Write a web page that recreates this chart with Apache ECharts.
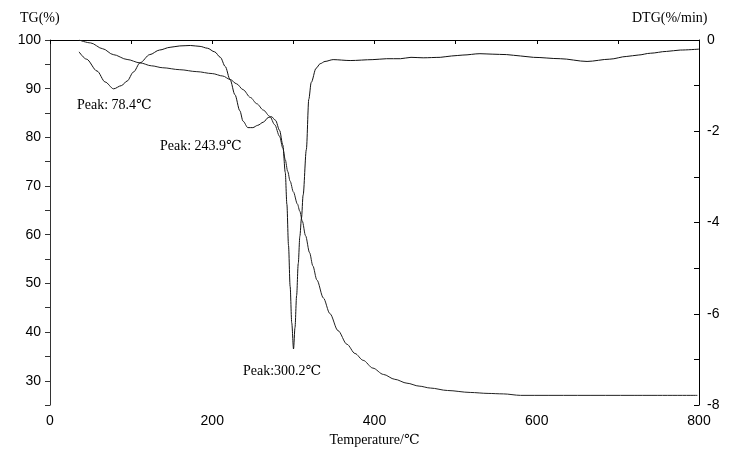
<!DOCTYPE html>
<html>
<head>
<meta charset="utf-8">
<script src="https://cdn.jsdelivr.net/npm/echarts@6/dist/echarts.min.js"></script>
<style>
html, body { margin: 0; padding: 0; background: #fff; }
#chart { width: 731px; height: 452px; }
</style>
</head>
<body>
<div id="chart"></div>
<script>
// TG curve (left axis, %)
var tgTemp = [35.8, 50, 65, 78, 95, 111, 125, 139, 160, 181, 200, 213, 222, 230, 238, 247, 255, 263, 271, 277, 283, 287, 290, 293, 296, 300, 305, 308, 311, 315, 320, 324, 329, 337, 345, 355, 366, 376, 386, 398, 411, 425, 440, 455, 469, 490, 518, 540, 559, 580, 650, 720, 798];
var tgVal = [100, 99.4, 98.2, 97.0, 96.0, 95.3, 94.7, 94.3, 93.9, 93.5, 93.1, 92.6, 91.9, 91.0, 89.8, 88.2, 86.9, 85.6, 84.3, 82.6, 80.2, 77.8, 75.4, 73.0, 71.0, 68.8, 66.3, 64.8, 62.8, 59.8, 56.3, 53.6, 50.7, 47.0, 43.8, 40.3, 37.5, 35.6, 34.2, 32.6, 31.3, 30.3, 29.5, 28.9, 28.5, 28.0, 27.6, 27.4, 27.3, 27.0, 27.0, 27.0, 27.0];

// DTG curve (right axis, %/min)
var dtgTemp = [35.8, 45, 58, 68, 78.4, 88, 95, 103, 111, 123, 135, 148, 160, 173, 185, 194, 203, 210, 216, 222, 228, 234, 238, 243.9, 250, 256, 263, 269, 273, 278, 283, 287, 290, 292, 294, 296, 298, 300.2, 302, 304, 306, 308, 310, 312, 316, 319, 322, 328, 333, 339, 349, 370, 398, 415, 432, 445, 460, 481, 495, 509, 530, 545, 563, 580, 596, 629, 662, 690, 711, 725, 740, 760, 777, 800];
var dtgVal = [-0.26, -0.42, -0.68, -0.92, -1.07, -1.00, -0.90, -0.70, -0.50, -0.32, -0.22, -0.16, -0.13, -0.12, -0.14, -0.18, -0.26, -0.38, -0.58, -0.87, -1.20, -1.55, -1.78, -1.92, -1.92, -1.87, -1.80, -1.70, -1.68, -1.76, -1.98, -2.3, -2.9, -3.6, -4.5, -5.4, -6.2, -6.77, -6.3, -5.6, -4.9, -4.3, -3.9, -3.4, -2.4, -1.3, -0.93, -0.62, -0.52, -0.47, -0.43, -0.45, -0.43, -0.41, -0.41, -0.38, -0.39, -0.38, -0.35, -0.33, -0.30, -0.31, -0.32, -0.35, -0.38, -0.41, -0.47, -0.42, -0.36, -0.33, -0.29, -0.25, -0.22, -0.20];

var peaks = ['Peak: 78.4℃', 'Peak: 243.9℃', 'Peak:300.2℃'];

function pairs(xs, ys) {
    var out = [];
    for (var i = 0; i < xs.length; i++) out.push([xs[i], ys[i]]);
    return out;
}

var serif = '"Liberation Serif", "DejaVu Serif", serif';
var sans = '"Liberation Sans", Arial, sans-serif';

var mychart = echarts.init(document.getElementById('chart'));
mychart.setOption({
    animation: false,
    grid: {
        left: 50,
        right: 32,
        top: 40,
        bottom: 43
    },
    xAxis: {
        type: 'value',
        min: 0,
        max: 800,
        interval: 100,
        name: 'Temperature/℃',
        nameLocation: 'middle',
        nameGap: 27,
        nameTextStyle: { fontFamily: serif, fontSize: 14, color: '#000' },
        axisLine: { lineStyle: { color: '#000', width: 1 } },
        axisTick: { length: 4, lineStyle: { color: '#000' } },
        axisLabel: {
            margin: 9,
            fontFamily: sans,
            fontSize: 14,
            color: '#000',
            formatter: function (v) { return v % 200 === 0 ? String(v) : ''; }
        },
        splitLine: { show: false }
    },
    yAxis: [
        {
            type: 'value',
            min: 25,
            max: 100,
            interval: 5,
            axisLine: { show: true, lineStyle: { color: '#333', width: 1 } },
            axisTick: { show: true, length: 5, lineStyle: { color: '#333' } },
            axisLabel: {
                margin: 9,
                fontFamily: sans,
                fontSize: 14,
                color: '#000',
                formatter: function (v) { return v % 10 === 0 ? String(v) : ''; }
            },
            splitLine: { show: false }
        },
        {
            type: 'value',
            position: 'right',
            min: -8,
            max: 0,
            interval: 1,
            axisLine: { show: true, lineStyle: { color: '#000', width: 1 } },
            axisTick: { show: true, inside: true, length: 5, lineStyle: { color: '#000' } },
            axisLabel: {
                margin: 8,
                fontFamily: sans,
                fontSize: 14,
                color: '#000',
                formatter: function (v) { return v % 2 === 0 ? String(v) : ''; }
            },
            splitLine: { show: false }
        }
    ],
    graphic: [
        { type: 'text', left: 20, top: 11, style: { text: 'TG(%)', font: '14px ' + serif, fill: '#000' } },
        { type: 'text', left: 632, top: 11, style: { text: 'DTG(%/min)', font: '14px ' + serif, fill: '#000' } },
        { type: 'text', left: 77, top: 98, style: { text: peaks[0], font: '14px ' + serif, fill: '#000' } },
        { type: 'text', left: 160, top: 139, style: { text: peaks[1], font: '14px ' + serif, fill: '#000' } },
        { type: 'text', left: 243, top: 364, style: { text: peaks[2], font: '14px ' + serif, fill: '#000' } }
    ],
    series: [
        {
            name: 'TG',
            type: 'line',
            yAxisIndex: 0,
            data: pairs(tgTemp, tgVal),
            showSymbol: false,
            smooth: 0.3,
            smoothMonotone: 'x',
            lineStyle: { color: '#222', width: 1 }
        },
        {
            name: 'DTG',
            type: 'line',
            yAxisIndex: 1,
            data: pairs(dtgTemp, dtgVal),
            showSymbol: false,
            smooth: 0.3,
            smoothMonotone: 'x',
            lineStyle: { color: '#111', width: 1 }
        }
    ]
});
</script>
</body>
</html>
